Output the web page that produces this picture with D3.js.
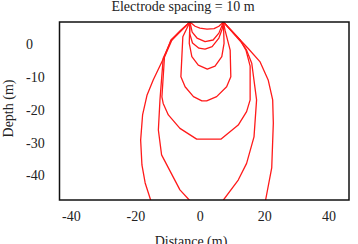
<!DOCTYPE html>
<html lang="en">
<head>
<meta charset="utf-8">
<title>Electrode spacing</title>
<style type="text/css">
body {
  margin: 0;
  background: white;
}
text {
  font-family: "Liberation Serif", "Times New Roman", Times, "DejaVu Serif", serif;
  font-size: 14px;
  fill: #222;
}
.lines path {
  fill: none;
  stroke: #ff1a1a;
  stroke-width: 1.3px;
  stroke-linejoin: round;
}
.frame {
  fill: none;
  stroke: #111;
  stroke-width: 1.5px;
}
</style>
</head>
<body>
<svg width="358" height="244"></svg>
<script src="https://d3js.org/d3.v7.min.js"></script>
<script>
var xTicks = [-40, -20, 0, 20, 40],
    yTicks = [0, -10, -20, -30, -40];

// current lines: [distance, depth] pairs (m)
var line1 = [[-3.2,6.9],[-1.6,5.6],[-0.1,5.0],[2.1,4.7],[4.3,4.9],[5.8,5.6],[7.2,6.9]];
var line2 = [[-3.2,6.9],[-2.5,3.8],[-1.0,2.0],[1.5,0.9],[4.0,1.4],[5.8,3.5],[7.2,6.9]];
var line3 = [[-3.2,6.9],[-3.3,3.5],[-2.4,0.5],[-0.4,-1.1],[1.5,-1.4],[3.7,-0.6],[5.8,2.0],[6.9,5.0],[7.2,6.9]];
var line4 = [[-3.2,6.9],[-3.4,0.4],[-2.6,-3.7],[-0.6,-6.3],[2.2,-7.5],[4.6,-6.6],[6.7,-3.7],[7.4,0.4],[7.2,6.9]];
var line5 = [[-3.2,6.9],[-5.4,2.4],[-6.0,-9.8],[-4.7,-12.9],[-2.1,-15.9],[0.5,-17.2],[2.0,-17.2],
             [5.1,-15.9],[8.2,-12.9],[9.5,-9.8],[9.3,-1.7],[7.7,4.4],[7.2,6.9]];
var line6 = [[-3.2,6.9],[-6.3,3.8],[-8.8,1.4],[-11.1,-3.8],[-11.9,-16.0],[-11.5,-18.0],[-9.9,-21.5],
             [-6.3,-25.6],[-1.1,-28.9],[6.4,-28.9],[11.8,-24.6],[14.4,-20.5],[15.5,-16.9],
             [15.5,-6.6],[14.2,-1.7],[12.4,1.4],[7.2,6.9]];
var line7 = [[-3.2,6.9],[-6.3,4.1],[-9.1,1.1],[-11.5,-4.2],[-12.5,-16.9],[-13.0,-26.1],[-12.0,-33.7],
             [-6.3,-44.4],[-3.4,-47.5],[-1.3,-49.6],[5.5,-49.6],[7.2,-47.5],[11.8,-41.4],[14.4,-36.3],
             [16.7,-28.2],[17.5,-16.9],[16.0,-5.7],[14.4,-1.7],[12.7,0.8],[7.2,6.9]];
var line8 = [[-3.2,6.9],[-6.0,4.4],[-9.1,1.4],[-10.9,-3.2],[-14.6,-10.8],[-16.5,-15.4],[-17.9,-21.5],
             [-18.5,-29.2],[-18.1,-36.8],[-17.1,-42.3],[-15.4,-47.5],[-14.7,-49.9],[19.5,-49.9],
             [20.3,-47.5],[22.2,-37.7],[22.7,-24.0],[22.5,-16.9],[21.1,-10.8],[18.6,-5.3],
             [14.9,-1.2],[13.0,0.8],[7.2,6.9]];
var allLines = [line1, line2, line3, line4, line5, line6, line7, line8];

var svg = d3.select("svg"),
    plotL = 59.5, plotR = 349, plotT = 22, plotB = 200;

var x = d3.scaleLinear().domain([-43.7, 46.2]).range([plotL, plotR]),
    y = d3.scaleLinear().domain([-47.5, 6.9]).range([plotB, plotT]);

svg.append("defs").append("clipPath")
    .attr("id", "plotclip")
  .append("rect")
    .attr("x", plotL).attr("y", plotT)
    .attr("width", plotR - plotL).attr("height", plotB - plotT);

var line = d3.line()
    .x(function(d) { return x(d[0]); })
    .y(function(d) { return y(d[1]); });

svg.append("g")
    .attr("class", "lines")
    .attr("clip-path", "url(#plotclip)")
  .selectAll("path")
    .data(allLines)
  .enter().append("path")
    .attr("d", line);

svg.append("rect")
    .attr("class", "frame")
    .attr("x", plotL).attr("y", plotT)
    .attr("width", plotR - plotL).attr("height", plotB - plotT);

// tick labels
svg.append("g").selectAll("text")
    .data(xTicks)
  .enter().append("text")
    .attr("x", function(d) { return x(d); })
    .attr("y", 221)
    .attr("text-anchor", "middle")
    .text(function(d) { return d; });

svg.append("g").selectAll("text")
    .data(yTicks)
  .enter().append("text")
    .attr("x", 26)
    .attr("y", function(d) { return y(d); })
    .attr("dy", "0.35em")
    .text(function(d) { return d; });

svg.append("text")
    .attr("x", 183)
    .attr("y", 11)
    .attr("text-anchor", "middle")
    .text("Electrode spacing = 10 m");

svg.append("text")
    .attr("x", 191)
    .attr("y", 246)
    .attr("text-anchor", "middle")
    .text("Distance (m)");

svg.append("text")
    .attr("transform", "translate(13,108.5) rotate(-90)")
    .attr("text-anchor", "middle")
    .text("Depth (m)");
</script>
</body>
</html>
